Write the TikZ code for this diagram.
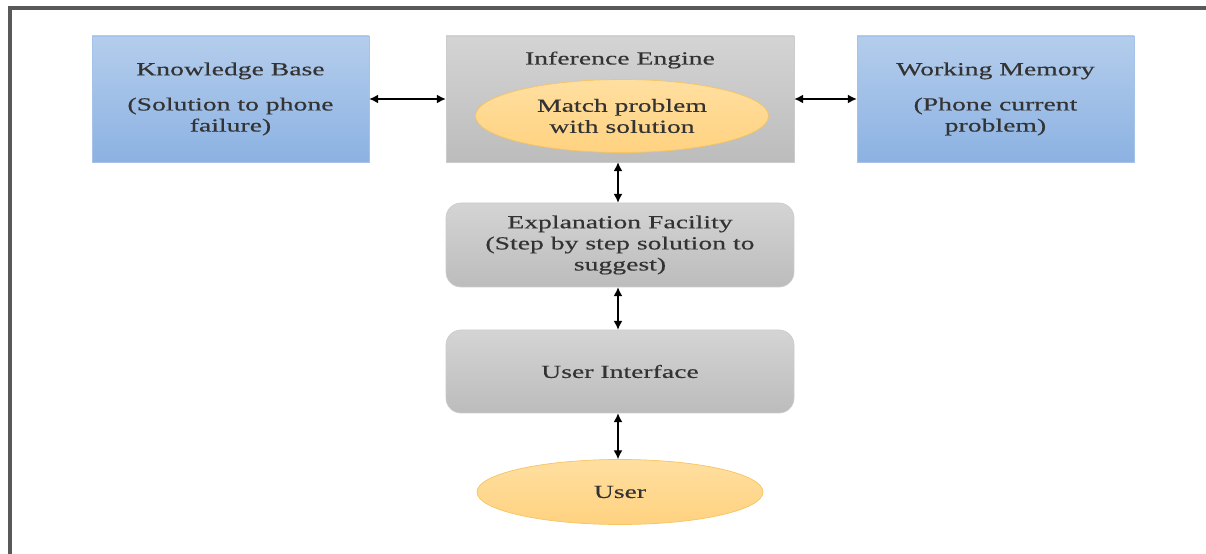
\documentclass[tikz,border=0pt]{standalone}
\usepackage{fontspec}
\setmainfont{Liberation Serif}[FakeStretch=1.5,FakeBold=0.4]
\usetikzlibrary{shapes.geometric,arrows.meta}
\definecolor{bluetop}{RGB}{180,205,236}
\definecolor{bluebot}{RGB}{140,178,226}
\definecolor{blueline}{RGB}{165,195,232}
\definecolor{greytop}{RGB}{212,212,212}
\definecolor{greybot}{RGB}{188,188,188}
\definecolor{greyline}{RGB}{204,204,204}
\definecolor{ovaltop}{RGB}{255,223,160}
\definecolor{ovalbot}{RGB}{255,210,128}
\definecolor{ovalline}{RGB}{246,196,96}
\tikzset{
	txt/.style={font=\fontsize{10.5}{12}\selectfont, text=black!80, align=center},
	bluebox/.style={txt, draw=blueline, top color=bluetop, bottom color=bluebot, minimum width=5.54cm, minimum height=2.52cm},
	greybox/.style={txt, draw=greyline, top color=greytop, bottom color=greybot, minimum width=6.96cm},
	oval/.style={txt, ellipse, draw=ovalline, top color=ovaltop, bottom color=ovalbot, inner sep=0pt},
	link/.style={{Latex[length=5pt,width=5pt]}-{Latex[length=5pt,width=5pt]}, line width=0.6pt}
}
\begin{document}
\begin{tikzpicture}
		\useasboundingbox (0,0) rectangle (24.12,11.08);
		\draw[line width=1.8pt, color=black!65] (0.2,0) -- (0.2,10.92) -- (24.12,10.92);
		%
		% top row
		%
		\node[bluebox] (kb) at (4.61,9.10) {Knowledge Base\\[8pt](Solution to phone\\failure)};
		\node[greybox, minimum height=2.52cm] (ie) at (12.40,9.10) {};
		\node[txt] (ietitle) at (12.40,9.88) {Inference Engine};
		\node[oval, minimum width=5.86cm, minimum height=1.46cm] (match) at (12.44,8.76) {Match problem\\with solution};
		\node[bluebox] (wm) at (19.91,9.10) {Working Memory\\[8pt](Phone current\\problem)};
		%
		% column
		%
		\node[greybox, rounded corners=0.3cm, minimum height=1.68cm] (ef) at (12.40,6.18) {Explanation Facility\\(Step by step solution to\\suggest)};
		\node[greybox, rounded corners=0.3cm, minimum height=1.66cm] (ui) at (12.40,3.65) {User Interface};
		\node[oval, minimum width=5.72cm, minimum height=1.30cm] (user) at (12.40,1.24) {User};
		%
		% Liens
		%
		\foreach \a/\b in {kb/ie,ie/wm}{
			\draw[link] (\a) -- (\b);
		}
		\foreach \a/\b in {ie/ef,ef/ui,ui/user}{
			\draw[link] ([xshift=-0.04cm]\a.south) -- ([xshift=-0.04cm]\b.north);
		}
\end{tikzpicture}
\end{document}
